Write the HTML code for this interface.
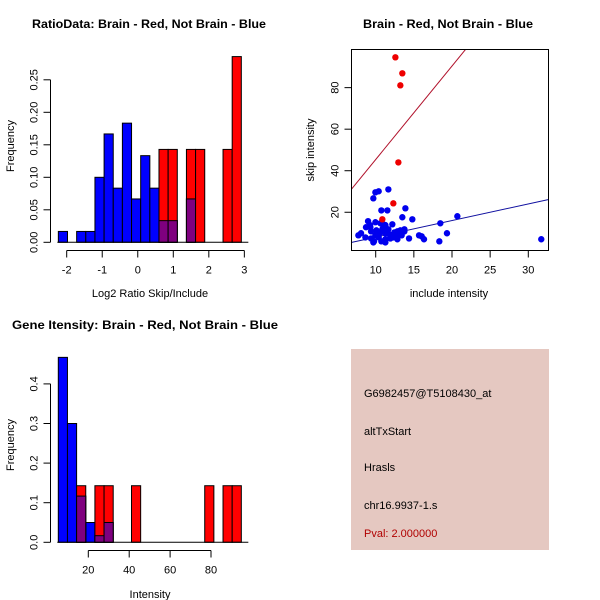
<!DOCTYPE html>
<html><head><meta charset="utf-8"><style>
body{margin:0;background:#fff;}
svg{display:block;font-family:"Liberation Sans",sans-serif;}
</style></head><body>
<svg id="c" width="600" height="600" viewBox="0 0 600 600">
<rect width="600" height="600" fill="#fff"/>
<g id="info">
<rect x="351" y="349" width="198" height="201" fill="#e5c8c1"/>
<text x="364" y="397" font-size="11" fill="#000">G6982457@T5108430_at</text>
<text x="364" y="435" font-size="11" fill="#000">altTxStart</text>
<text x="364" y="471" font-size="11" fill="#000">Hrasls</text>
<text x="364" y="509" font-size="11" fill="#000">chr16.9937-1.s</text>
<text x="364" y="537" font-size="11" fill="#b00000">Pval: 2.000000</text>
</g>
</svg>
<script>
// ---- Data: plot 1 (ratio histogram) ----
const ratioBlue=[0.0167,0,0.0167,0.0167,0.1,0.1667,0.0833,0.1833,0.0667,0.1333,0.0833,0.0333,0.0333,0,0.0667,0,0,0,0,0];
const ratioRed=[0,0,0,0,0,0,0,0,0,0,0,0.1429,0.1429,0,0.1429,0.1429,0,0,0.1429,0.2857];
const ratioYTicks=[0,0.05,0.10,0.15,0.20,0.25];
const ratioYLabels=["0.00","0.05","0.10","0.15","0.20","0.25"];
const ratioXTicks=[-2,-1,0,1,2,3];
// ---- Data: plot 2 (scatter) ----
const redX=[12.58,13.49,13.23,12.97,12.31,10.87];
const redY=[94.6,86.9,81.1,44.0,24.3,16.6];
const blueX=[9.69,9.96,10.39,11.66,10.74,11.53,13.89,13.49,14.80,20.70,18.47,9.0,9.26,8.73,9.96,10.61,11.0,11.27,12.18,11.0,9.39,10.09,10.61,11.66,11.27,11.79,12.45,12.84,13.23,13.76,13.10,12.71,12.31,12.84,11.92,11.27,10.74,11.27,9.78,9.39,8.65,8.08,7.73,9.30,9.96,10.39,10.48,14.37,15.68,16.03,16.33,18.34,19.34,31.7,13.40,13.76,9.69,10.87];
const blueY=[26.7,29.6,30.1,31.0,20.9,20.9,21.9,17.6,16.6,18.1,14.7,15.7,13.8,12.8,15.2,14.7,14.2,13.8,14.2,12.8,10.8,11.3,10.3,11.8,9.9,9.4,10.3,10.8,11.3,11.8,9.9,8.9,7.9,7.0,7.4,7.0,6.0,5.5,6.0,7.4,7.9,9.9,8.9,12.8,8.9,7.9,9.9,7.4,8.9,8.4,7.0,6.0,9.9,7.0,8.9,10.8,5.5,11.8];
const redLine=[0.4,4.5];   // intercept, slope
const blueLine=[0.0,0.8];
const scatXTicks=[10,15,20,25,30];
const scatYTicks=[20,40,60,80];
// ---- Data: plot 3 (intensity histogram) ----
const intBlue=[0.467,0.3,0.1167,0.05,0.0167,0.05,0,0,0,0,0,0,0,0,0,0,0,0,0,0];
const intRed=[0,0,0.1429,0,0.1429,0.1429,0,0,0.1429,0,0,0,0,0,0,0,0.1429,0,0.1429,0.1429];
const intYTicks=[0,0.1,0.2,0.3,0.4];
const intYLabels=["0.0","0.1","0.2","0.3","0.4"];
const intXTicks=[20,40,60,80];

const svg=document.getElementById('c');
const NS='http://www.w3.org/2000/svg';
function mk(tag,attrs,parent){const e=document.createElementNS(NS,tag);for(const k in attrs)e.setAttribute(k,attrs[k]);(parent||svg).appendChild(e);return e;}
function txt(x,y,s,size,opts,parent){const e=mk('text',Object.assign({x:x,y:y,'font-size':size,'text-anchor':'middle',fill:'#000'},opts||{}),parent);e.textContent=s;return e;}

function hist(cfg){
  const g=mk('g',{});
  
  
  const sx=v=>cfg.x0+(v-cfg.d0)*cfg.kx;
  const sy=v=>cfg.y0-v*cfg.ky;
  const n=cfg.blue.length;
  for(let i=0;i<n;i++){
    const a=cfg.b0+i*cfg.bw,b=a+cfg.bw;
    const bv=cfg.blue[i];
    if(bv>0){const r=mk('rect',{x:sx(a),y:sy(bv),width:sx(b)-sx(a),height:sy(0)-sy(bv),fill:'#0000ff',stroke:'#000','stroke-width':1},g);
      }
  }
  for(let i=0;i<n;i++){
    const a=cfg.b0+i*cfg.bw,b=a+cfg.bw;
    const bv=cfg.blue[i],rv=cfg.red[i];
    if(rv>0){const r=mk('rect',{x:sx(a),y:sy(rv),width:sx(b)-sx(a),height:sy(0)-sy(rv),fill:'#ff0000',stroke:'#000','stroke-width':1},g);
      
      if(bv>0){const m=Math.min(bv,rv);const p=mk('rect',{x:sx(a),y:sy(m),width:sx(b)-sx(a),height:sy(0)-sy(m),fill:'#7f007f',stroke:'#000','stroke-width':1},g);
        }
    }
  }
  mk('line',{x1:sx(cfg.b0)-1,x2:sx(cfg.b0+n*cfg.bw)+7,y1:sy(0),y2:sy(0),stroke:'#000'},g);
  const ya=mk('g',{},g);
  const ax=cfg.yAxisX;
  mk('line',{x1:ax,x2:ax,y1:sy(cfg.yt[0]),y2:sy(cfg.yt[cfg.yt.length-1]),stroke:'#000'},ya);
  cfg.yt.forEach((v,i)=>{mk('line',{x1:ax-7,x2:ax,y1:sy(v),y2:sy(v),stroke:'#000'},ya);
    txt(ax-13,sy(v),cfg.yl[i],11,{transform:`rotate(-90 ${ax-13} ${sy(v)})`},ya);});
  const xa=mk('g',{},g);
  const ay=cfg.xAxisY;
  mk('line',{x1:sx(cfg.xt[0]),x2:sx(cfg.xt[cfg.xt.length-1]),y1:ay,y2:ay,stroke:'#000'},xa);
  cfg.xt.forEach(v=>{mk('line',{x1:sx(v),x2:sx(v),y1:ay,y2:ay+7,stroke:'#000'},xa);txt(sx(v),ay+23,String(v),11,{},xa);});
  const xt=txt(cfg.xTitle[1],cfg.xTitle[2],cfg.xTitle[0],11,{},g);
  const yt=txt(14,cfg.yTitleY,'Frequency',11,{transform:`rotate(-90 14 ${cfg.yTitleY})`},g);
  const tt=txt(cfg.title[1],cfg.title[2],cfg.title[0],12,{'font-weight':'bold',textLength:cfg.title[3],lengthAdjust:'spacingAndGlyphs'},g);
}

hist({name:'ratio-histogram',blue:ratioBlue,red:ratioRed,b0:-2.235,bw:0.2575,x0:66.7,d0:-2,kx:35.53,y0:242.3,ky:650,
  yt:ratioYTicks,yl:ratioYLabels,xt:ratioXTicks,yAxisX:50.5,xAxisY:250.5,
  xTitle:['Log2 Ratio Skip/Include',150,297],yTitleY:146,title:['RatioData: Brain - Red, Not Brain - Blue',149,28,234]});
hist({name:'intensity-histogram',blue:intBlue,red:intRed,b0:5.33,bw:4.475,x0:88.3,d0:20,kx:2.045,y0:542.3,ky:396,
  yt:intYTicks,yl:intYLabels,xt:intXTicks,yAxisX:50.5,xAxisY:550.5,
  xTitle:['Intensity',150,598],yTitleY:445,title:['Gene Itensity: Brain - Red, Not Brain - Blue',145,329,266]});

(function(){
  const g=mk('g',{});
  
  
  const sx=v=>375.7+(v-10)*7.63, sy=v=>253.8-v*2.077;
  const L=351.5,R=548.5,T=49.5,B=250.5;
  const cp=mk('clipPath',{id:'sc'},g);mk('rect',{x:L,y:T,width:R-L,height:B-T},cp);
  const pg=mk('g',{'clip-path':'url(#sc)'},g);
  const xa=6.85,xb=32.6;
  const rl=mk('line',{x1:sx(xa),y1:sy(redLine[0]+redLine[1]*xa),x2:sx(xb),y2:sy(redLine[0]+redLine[1]*xb),stroke:'#b0102a','stroke-width':1},pg);
  
  const bl=mk('line',{x1:sx(xa),y1:sy(blueLine[0]+blueLine[1]*xa),x2:sx(xb),y2:sy(blueLine[0]+blueLine[1]*xb),stroke:'#1010a0','stroke-width':1},pg);
  
  for(let i=0;i<blueX.length;i++){const c=mk('circle',{cx:sx(blueX[i]),cy:sy(blueY[i]),r:3.2,fill:'#0000ee'},pg);
    }
  for(let i=0;i<redX.length;i++){const c=mk('circle',{cx:sx(redX[i]),cy:sy(redY[i]),r:3.2,fill:'#ee0000'},pg);
    }
  mk('rect',{x:L,y:T,width:R-L,height:B-T,fill:'none',stroke:'#000'},g);
  scatXTicks.forEach(v=>{mk('line',{x1:sx(v),x2:sx(v),y1:B,y2:B+7,stroke:'#000'},g);txt(sx(v),B+23,String(v),11,{},g);});
  scatYTicks.forEach(v=>{mk('line',{x1:L-7,x2:L,y1:sy(v),y2:sy(v),stroke:'#000'},g);txt(L-13,sy(v),String(v),11,{transform:`rotate(-90 ${L-13} ${sy(v)})`},g);});
  const xt=txt(449,297,'include intensity',11,{},g);
  const yt=txt(314,150,'skip intensity',11,{transform:'rotate(-90 314 150)'},g);
  const tt=txt(448,28,'Brain - Red, Not Brain - Blue',12,{'font-weight':'bold',textLength:170,lengthAdjust:'spacingAndGlyphs'},g);
})();
</script>
</body></html>
